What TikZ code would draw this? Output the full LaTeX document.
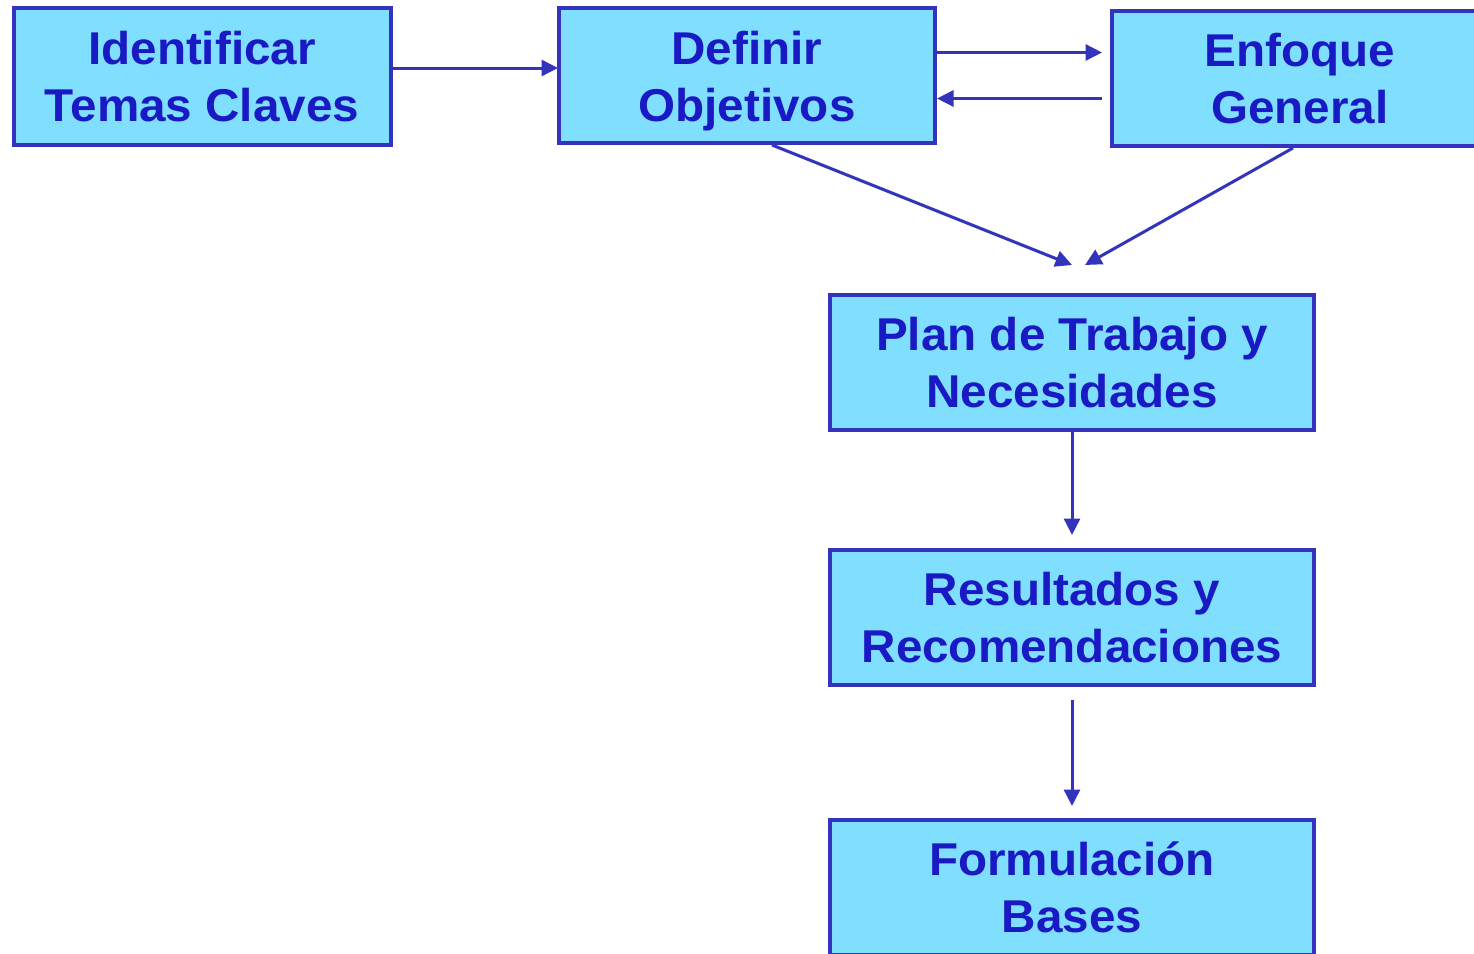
\documentclass[tikz,border=0pt]{standalone}
\usepackage{fontspec}
\setmainfont{Liberation Sans}[FakeStretch=1.035]
\usetikzlibrary{arrows.meta}
\definecolor{boxfill}{RGB}{128,223,255}
\definecolor{boxline}{RGB}{51,51,187}
\definecolor{boxtext}{RGB}{26,26,196}
\begin{document}
\begin{tikzpicture}[x=1pt,y=-1pt,
  boxtxt/.style={align=center,inner sep=0pt,text=boxtext,
    font=\fontsize{46}{57}\selectfont\bfseries},
  stepbox/.style={boxtxt,draw=boxline,fill=boxfill,line width=4pt,
    minimum height=135pt},
  arr/.style={draw=boxline,line width=3pt,-{Triangle[length=16.5pt,width=16pt]}}]
\useasboundingbox (0,0) rectangle (1474,953);
\clip (0,0) rectangle (1474,953);
\fill[white] (0,0) rectangle (1474,953);
\node[stepbox,minimum width=377pt,minimum height=137pt] (idn) at (202,76.5) {Identificar\\Temas Claves};
\node[stepbox,minimum width=376pt] (def) at (747,75.5) {};
\node[boxtxt] (deft) at (747,81.5) {Definir\\Objetivos};
\node[stepbox,minimum width=377pt] (enf) at (1300,78.5) {Enfoque\\General};
\node[stepbox,minimum width=484pt] (plan) at (1072,362.5) {Plan de Trabajo y\\Necesidades};
\node[stepbox,minimum width=484pt] (res) at (1072,617.5) {Resultados y\\Recomendaciones};
\node[stepbox,minimum width=484pt] (form) at (1072,887.5) {Formulación\\Bases};
% free ends
\coordinate (a1s) at (391,68);
\coordinate (a1e) at (558,68);
\coordinate (a2s) at (937,52.5);
\coordinate (a2e) at (1102,52.5);
\coordinate (a3s) at (1102,98.5);
\coordinate (a3e) at (937,98.5);
\coordinate (a4s) at (772,145);
\coordinate (a4e) at (1072,265);
\coordinate (a5s) at (1293,148);
\coordinate (a5e) at (1085,265);
\coordinate (a6e) at (1072,535);
\coordinate (a7s) at (1072,700);
\coordinate (a7e) at (1072,806);
\draw[arr] (a1s) -- (a1e);
\draw[arr] (a2s) -- (a2e);
\draw[arr] (a3s) -- (a3e);
\draw[arr] (a4s) -- (a4e);
\draw[arr] (a5s) -- (a5e);
\draw[arr] (plan.south) -- (a6e);
\draw[arr] (a7s) -- (a7e);
\end{tikzpicture}
\end{document}
